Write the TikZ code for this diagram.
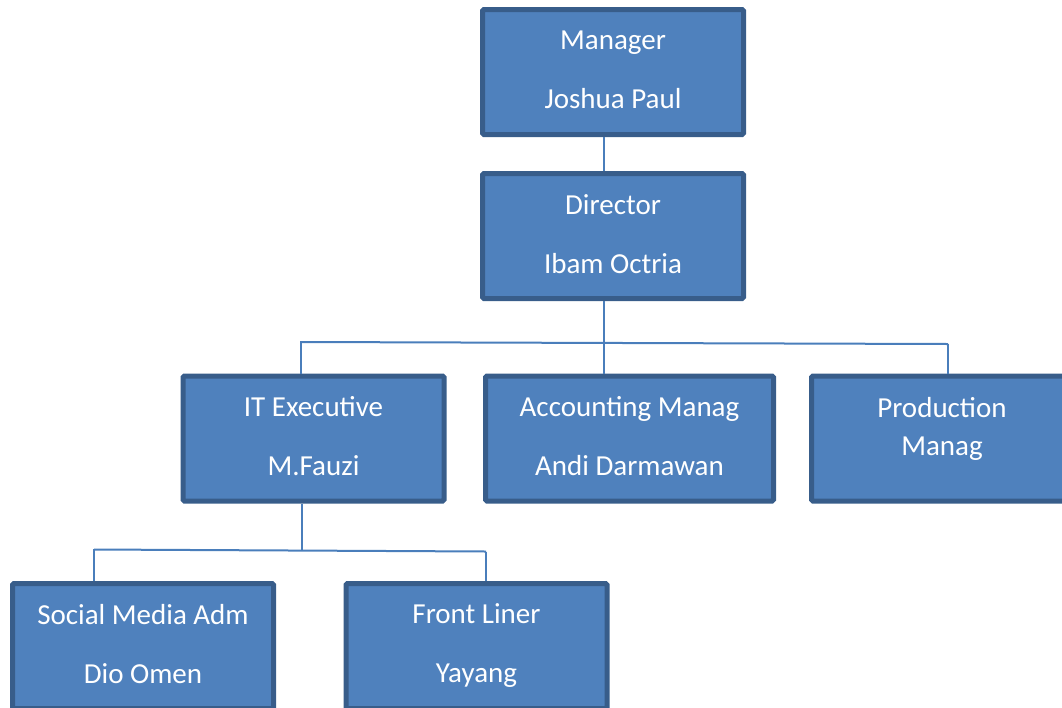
\documentclass[tikz,border=0pt]{standalone}
\usepackage{fontspec}
\setmainfont{Carlito}
\usepackage{tikz}
\usepackage{xcolor}
\usetikzlibrary{positioning}
\definecolor{boxblue}{HTML}{4F81BD}
\definecolor{boxedge}{HTML}{385D8A}
\definecolor{linkblue}{HTML}{4A7EBB}
\tikzset{
    orgbox/.style={rectangle, draw=boxedge, fill=boxblue, line width=5pt, rounded corners=1.5pt,
        minimum width=261pt, minimum height=125pt, text=white, align=center,
        font=\fontsize{29}{59}\selectfont,
        execute at begin node=\rule{0pt}{26pt},
        execute at end node=\rule[-4.4pt]{0pt}{4.4pt}},
    widebox/.style={orgbox, minimum width=288pt},
    boxtext/.style={text=white, align=center, font=\fontsize{29}{38}\selectfont},
    link/.style={draw=linkblue, line width=2pt}
}

\begin{document}
\begin{tikzpicture}[x=1pt, y=-1pt]
    \clip (0,0) rectangle (1062,707);
    % top of the chart
    \node[orgbox] (mgr) at (613,72) {Manager\\Joshua Paul};
    \node[orgbox] (dir) at (613,236) {Director\\Ibam Octria};
    % second row
    \node[orgbox] (it) at (313.5,438.5) {IT Executive\\M.Fauzi};
    \node[widebox] (acc) at (629.5,438.5) {Accounting Manag\\Andi Darmawan};
    \node[orgbox] (prod) at (942,438.5) {};
    \node[boxtext] (prodtext) at ([yshift=10pt]prod.center) {Production\\Manag};
    % third row
    \node[orgbox] (soc) at (143,646) {Social Media Adm\\Dio Omen};
    \node[orgbox] (front) at (476.5,646) {Front Liner\\Yayang};

    % connectors
    \draw[link] ([xshift=-9pt]mgr.south) -- ([xshift=-9pt]dir.north);
    \coordinate (dstem) at ([xshift=-9pt]dir.south);
    \draw[link] (dstem) -- (dstem |- acc.north);
    \coordinate (barL) at (301,342);
    \coordinate (barR) at (948,344);
    \draw[link] (barL) -- (barR);
    \draw[link] ([yshift=1pt]barL) -- (barL |- it.north);
    \draw[link] (barR) -- (barR |- prod.north);

    \coordinate (istem) at ([xshift=-12pt]it.south);
    \coordinate (bar2L) at (94,549.5);
    \coordinate (bar2R) at (486,551.5);
    \draw[link] (istem) -- (istem |- 0,550.5);
    \draw[link] (bar2L) -- (bar2R);
    \draw[link] ([yshift=1pt]bar2L) -- (bar2L |- soc.north);
    \draw[link] (bar2R) -- (bar2R |- front.north);
\end{tikzpicture}
\end{document}
